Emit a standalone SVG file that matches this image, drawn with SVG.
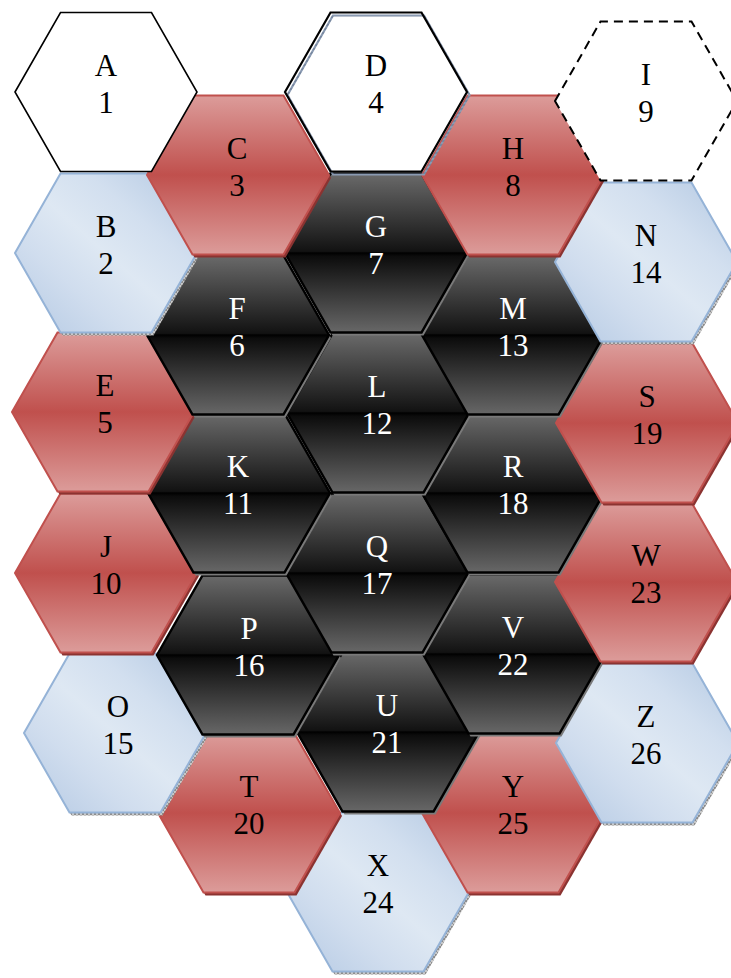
<svg xmlns="http://www.w3.org/2000/svg" width="731" height="978" viewBox="0 0 731 978">
<defs>
  <linearGradient id="gRed" x1="0" y1="0" x2="0" y2="1">
    <stop offset="0" stop-color="#dc9c9a"/>
    <stop offset="0.5" stop-color="#c0504d"/>
    <stop offset="1" stop-color="#dc9c9a"/>
  </linearGradient>
  <linearGradient id="gDark" x1="0" y1="0" x2="0" y2="1">
    <stop offset="0" stop-color="#6a6a6a"/>
    <stop offset="0.49" stop-color="#121212"/>
    <stop offset="0.5" stop-color="#000000"/>
    <stop offset="0.52" stop-color="#0c0c0c"/>
    <stop offset="1" stop-color="#676767"/>
  </linearGradient>
  <linearGradient id="gBlue" x1="1" y1="0" x2="0" y2="1">
    <stop offset="0" stop-color="#b3c8e2"/>
    <stop offset="0.3" stop-color="#d2dfef"/>
    <stop offset="0.5" stop-color="#dee8f3"/>
    <stop offset="0.7" stop-color="#d0ddee"/>
    <stop offset="1" stop-color="#b4c9e3"/>
  </linearGradient>
  <pattern id="hatch" width="4" height="4" patternUnits="userSpaceOnUse">
    <rect width="4" height="4" fill="#c8c8c8"/>
    <path d="M0 0L4 4M4 0L0 4" stroke="#7d7d7d" stroke-width="0.8"/>
  </pattern>
  <pattern id="hatchD" width="4" height="4" patternUnits="userSpaceOnUse">
    <rect width="4" height="4" fill="#8a9ab2"/>
    <path d="M0 2H4" stroke="#5b6b85" stroke-width="0.8"/>
  </pattern>
  <polygon id="hex" points="-91,0 -45.5,-79.5 45.5,-79.5 91,0 45.5,79.5 -45.5,79.5"/>
</defs>
<style>
  .red{fill:url(#gRed);stroke:#c0504d;stroke-width:2}
  .red-sh{fill:#8b3331}
  .dark{fill:url(#gDark);stroke:#000;stroke-width:2.5}
  .dark-sh{fill:#7a7a7a}
  .blue{fill:url(#gBlue);stroke:#95b3d7;stroke-width:2}
  .blue-sh{fill:url(#hatch)}
  .white{fill:#fff;stroke:#000;stroke-width:1.6}
  .dashed{fill:#fff;stroke:#000;stroke-width:2;stroke-dasharray:9 6}
  .d-sh{fill:none;stroke:url(#hatchD);stroke-width:2.2}
  .plain{fill:#fff;stroke:none}
  .outline{fill:none;stroke:#000;stroke-width:2.2}
  text{font-family:"Liberation Serif","Times New Roman",serif;font-size:31px;text-anchor:middle;fill:#000}
  text.lt{fill:#fff}
</style>
<g id="connectors"></g>
<g id="nodes">
  <g id="X" transform="translate(378,892)"><use href="#hex" class="blue-sh" x="2" y="3"/><use href="#hex" class="blue"/><text x="0" y="-16">X</text><text x="0" y="21">24</text></g>
  <g id="T" transform="translate(249,813)"><use href="#hex" class="red-sh" x="2" y="3"/><use href="#hex" class="red"/><text x="0" y="-16">T</text><text x="0" y="21">20</text></g>
  <g id="Y" transform="translate(513,813)"><use href="#hex" class="red-sh" x="2" y="3"/><use href="#hex" class="red"/><text x="0" y="-16">Y</text><text x="0" y="21">25</text></g>
  <g id="Z" transform="translate(647,743)"><use href="#hex" class="blue-sh" x="2" y="3"/><use href="#hex" class="blue"/><text x="-1" y="-16">Z</text><text x="-1" y="21">26</text></g>
  <g id="O" transform="translate(115,733)"><use href="#hex" class="blue-sh" x="2" y="3"/><use href="#hex" class="blue"/><text x="3" y="-16">O</text><text x="3" y="21">15</text></g>
  <g id="U" transform="translate(388,732)"><use href="#hex" class="dark-sh" x="2" y="3"/><use href="#hex" class="dark"/><text class="lt" x="-1" y="-16">U</text><text class="lt" x="-1" y="21">21</text></g>
  <g id="P" transform="translate(248,655)"><use href="#hex" class="dark-sh" x="2" y="3"/><use href="#hex" class="dark"/><text class="lt" x="1" y="-16">P</text><text class="lt" x="1" y="21">16</text></g>
  <g id="V" transform="translate(514,654)"><use href="#hex" class="dark-sh" x="2" y="3"/><use href="#hex" class="dark"/><text class="lt" x="-1" y="-16">V</text><text class="lt" x="-1" y="21">22</text></g>
  <g id="W" transform="translate(646,582)"><use href="#hex" class="red-sh" x="2" y="3"/><use href="#hex" class="red"/><text x="0" y="-16">W</text><text x="0" y="21">23</text></g>
  <g id="J" transform="translate(106,573)"><use href="#hex" class="red-sh" x="2" y="3"/><use href="#hex" class="red"/><text x="0" y="-16">J</text><text x="0" y="21">10</text></g>
  <g id="Q" transform="translate(377,573)"><use href="#hex" class="dark-sh" x="2" y="3"/><use href="#hex" class="dark"/><text class="lt" x="0" y="-16">Q</text><text class="lt" x="0" y="21">17</text></g>
  <g id="K" transform="translate(239,493)"><use href="#hex" class="dark-sh" x="2" y="3"/><use href="#hex" class="dark"/><text class="lt" x="-1" y="-16">K</text><text class="lt" x="-1" y="21">11</text></g>
  <g id="R" transform="translate(513,493)"><use href="#hex" class="dark-sh" x="2" y="3"/><use href="#hex" class="dark"/><text class="lt" x="0" y="-16">R</text><text class="lt" x="0" y="21">18</text></g>
  <g id="S" transform="translate(647,423)"><use href="#hex" class="red-sh" x="2" y="3"/><use href="#hex" class="red"/><text x="0" y="-16">S</text><text x="0" y="21">19</text></g>
  <g id="E" transform="translate(103,412)"><use href="#hex" class="red-sh" x="2" y="3"/><use href="#hex" class="red"/><text x="2" y="-16">E</text><text x="2" y="21">5</text></g>
  <g id="L" transform="translate(378,413)"><use href="#hex" class="dark-sh" x="2" y="3"/><use href="#hex" class="dark"/><text class="lt" x="-1" y="-16">L</text><text class="lt" x="-1" y="21">12</text></g>
  <g id="F" transform="translate(238,335)"><use href="#hex" class="dark-sh" x="2" y="3"/><use href="#hex" class="dark"/><text class="lt" x="-1" y="-16">F</text><text class="lt" x="-1" y="21">6</text></g>
  <g id="M" transform="translate(513,335)"><use href="#hex" class="dark-sh" x="2" y="3"/><use href="#hex" class="dark"/><text class="lt" x="0" y="-16">M</text><text class="lt" x="0" y="21">13</text></g>
  <g id="N" transform="translate(646,262)"><use href="#hex" class="blue-sh" x="2" y="3"/><use href="#hex" class="blue"/><text x="0" y="-16">N</text><text x="0" y="21">14</text></g>
  <g id="B" transform="translate(106,253)"><use href="#hex" class="blue-sh" x="2" y="3"/><use href="#hex" class="blue"/><text x="0" y="-16">B</text><text x="0" y="21">2</text></g>
  <g id="G" transform="translate(376,253)"><use href="#hex" class="dark-sh" x="2" y="3"/><use href="#hex" class="dark"/><text class="lt" x="0" y="-16">G</text><text class="lt" x="0" y="21">7</text></g>
  <g id="C" transform="translate(238,175)"><use href="#hex" class="red-sh" x="2" y="3"/><use href="#hex" class="red"/><text x="-1" y="-16">C</text><text x="-1" y="21">3</text></g>
  <g id="H" transform="translate(513,175)"><use href="#hex" class="red-sh" x="2" y="3"/><use href="#hex" class="red"/><text x="0" y="-16">H</text><text x="0" y="21">8</text></g>
  <g id="I" transform="translate(646,101)"><use href="#hex" class="dashed"/><text x="0" y="-16">I</text><text x="0" y="21">9</text></g>
  <g id="A" transform="translate(106,92)"><use href="#hex" class="white"/><text x="0" y="-16">A</text><text x="0" y="21">1</text></g>
  <g id="D" transform="translate(376,92)"><use href="#hex" class="plain"/><use href="#hex" class="d-sh" x="2.5" y="3"/><use href="#hex" class="outline"/><text x="0" y="-16">D</text><text x="0" y="21">4</text></g>
</g>
</svg>
